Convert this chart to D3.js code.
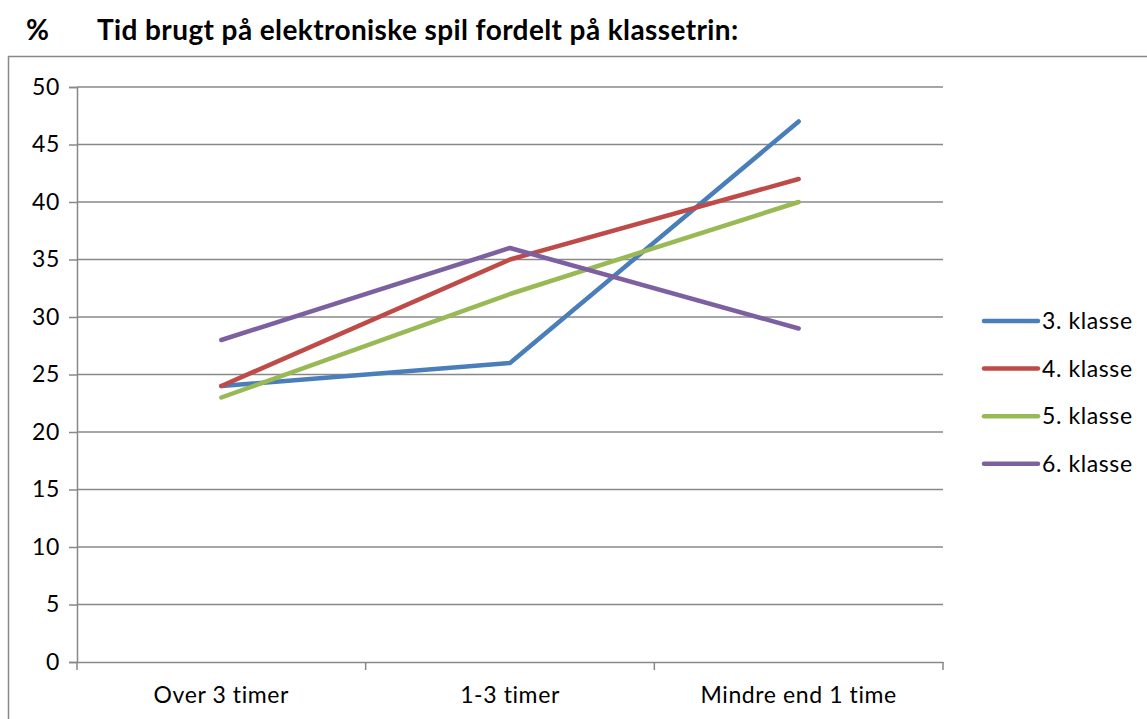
<!DOCTYPE html>
<html lang="da">
<head>
<meta charset="UTF-8">
<title>Tid brugt på elektroniske spil</title>
<style>
  body { margin: 0; background: #fff; overflow: hidden; }
  svg { display: block; }
  text { font-family: Lato, "Open Sans", sans-serif; fill: #000; }
  .title { font-weight: bold; font-size: 28px; letter-spacing: 0.4px; }
  .lbl { letter-spacing: 0.6px; }
</style>
</head>
<body>
<svg width="1147" height="719"></svg>
<script src="https://cdn.jsdelivr.net/npm/d3@7"></script>
<script>
const categories = ["Over 3 timer", "1-3 timer", "Mindre end 1 time"];
const seriesNames = ["3. klasse", "4. klasse", "5. klasse", "6. klasse"];
const klasse3 = [24, 26, 47];
const klasse4 = [24, 35, 42];
const klasse5 = [23, 32, 40];
const klasse6 = [28, 36, 29];
const yTicks = [0, 5, 10, 15, 20, 25, 30, 35, 40, 45, 50];
const colors = ["#4A7EBB", "#BE4B48", "#98B954", "#7D60A0"];

const series = seriesNames.map((name, i) => ({
  name, color: colors[i], values: [klasse3, klasse4, klasse5, klasse6][i]
}));

const svg = d3.select("svg");
const labelFont = "Lato, 'Open Sans', sans-serif";

// title
svg.append("text").attr("class", "title").attr("x", 26).attr("y", 40).text("%");
svg.append("text").attr("class", "title").attr("x", 97).attr("y", 40)
  .text("Tid brugt på elektroniske spil fordelt på klassetrin:");

// outer chart border
svg.append("rect")
  .attr("x", 8.5).attr("y", 56.5)
  .attr("width", 1160).attr("height", 700)
  .attr("fill", "none").attr("stroke", "#888").attr("stroke-width", 1.5);

const x = d3.scaleBand().domain(categories).range([77, 943]);
const y = d3.scaleLinear().domain([0, 50]).range([662, 87]);

// gridlines
svg.append("g").selectAll("line").data(yTicks.filter(d => d > 0)).join("line")
  .attr("x1", 77).attr("x2", 943)
  .attr("y1", d => y(d)).attr("y2", d => y(d))
  .attr("stroke", "#888").attr("stroke-width", 1.5);

// y axis
const yAxis = svg.append("g").attr("transform", "translate(77,0)")
  .call(d3.axisLeft(y).tickValues(yTicks).tickSize(8).tickPadding(9));
yAxis.select(".domain").attr("stroke", "#888").attr("stroke-width", 1.5);
yAxis.selectAll(".tick line").attr("stroke", "#888").attr("stroke-width", 1.5);
yAxis.selectAll("text").attr("class", "lbl").style("font-size", "23px").attr("fill", "#000")
  .style("font-family", labelFont);

// x axis
const xAxis = svg.append("g").attr("transform", "translate(0,662)")
  .call(d3.axisBottom(x).tickSize(0).tickPadding(25));
xAxis.select(".domain").attr("stroke", "#888").attr("stroke-width", 1.5);
xAxis.selectAll("text").attr("class", "lbl").style("font-size", "23px").attr("fill", "#000")
  .style("font-family", labelFont);
const bounds = categories.map(c => x(c)).concat([x.range()[1]]);
svg.append("g").selectAll("line").data(bounds).join("line")
  .attr("x1", d => d).attr("x2", d => d)
  .attr("y1", 662).attr("y2", 670)
  .attr("stroke", "#888").attr("stroke-width", 1.5);

// lines
const line = d3.line()
  .x((d, i) => x(categories[i]) + x.bandwidth() / 2)
  .y(d => y(d));
svg.append("g").selectAll("path").data(series).join("path")
  .attr("d", d => line(d.values))
  .attr("fill", "none")
  .attr("stroke", d => d.color)
  .attr("stroke-width", 4.5)
  .attr("stroke-linejoin", "round")
  .attr("stroke-linecap", "round");

// legend
const legend = svg.append("g").selectAll("g").data(series).join("g")
  .attr("transform", (d, i) => `translate(984,${321 + i * 47.6})`);
legend.append("line")
  .attr("x1", 0).attr("x2", 54)
  .attr("stroke", d => d.color).attr("stroke-width", 4.5)
  .attr("stroke-linecap", "round");
legend.append("text")
  .attr("class", "lbl")
  .attr("x", 58).attr("dy", "0.35em")
  .style("font-size", "23px")
  .text(d => d.name);
</script>
</body>
</html>
